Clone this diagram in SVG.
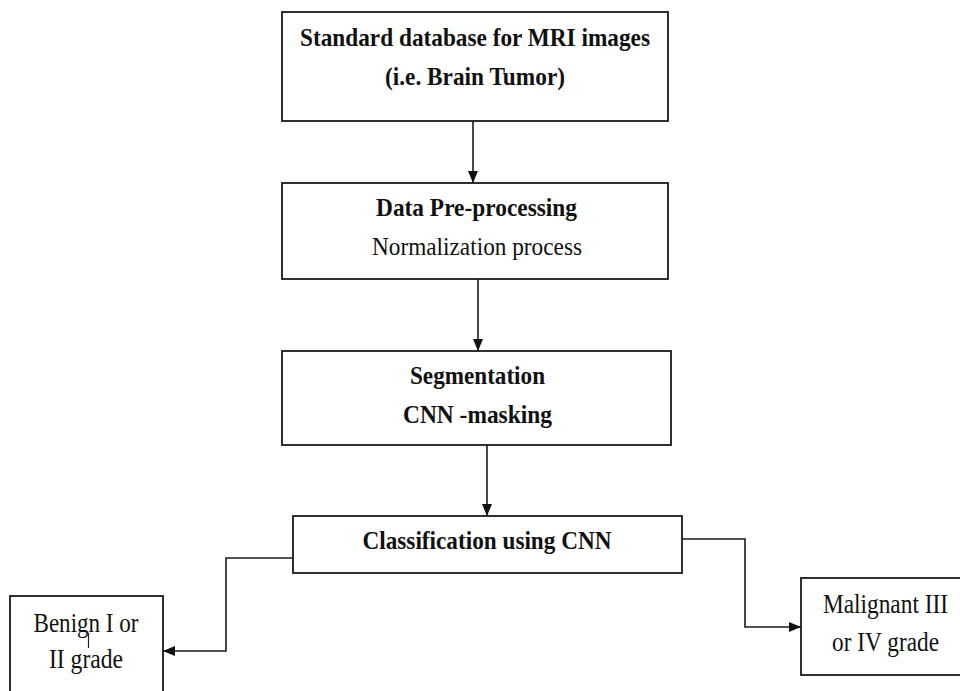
<svg xmlns="http://www.w3.org/2000/svg" width="960" height="691" viewBox="0 0 960 691">
<style>
.box{fill:#fff;stroke:#1a1a1a;stroke-width:1.8}
.t{font-family:"Liberation Serif","Times New Roman",serif;fill:#111;text-anchor:middle}
.b{font-weight:bold;font-size:25px}
.n{font-size:25px}
.s{font-size:27px}
.c{fill:none;stroke:#1a1a1a;stroke-width:1.6}
</style>
<defs>
<marker id="ah" viewBox="0 0 12 10" refX="12" refY="5" markerWidth="12" markerHeight="10" markerUnits="userSpaceOnUse" orient="auto">
<path d="M0,0 L12,5 L0,10 Z" fill="#111"/>
</marker>
</defs>
<rect width="960" height="691" fill="#fff"/>
<g id="connectors">
<line class="c" x1="473" y1="121" x2="473" y2="183" marker-end="url(#ah)"/>
<line class="c" x1="478" y1="279" x2="478" y2="351" marker-end="url(#ah)"/>
<line class="c" x1="487" y1="445" x2="487" y2="516" marker-end="url(#ah)"/>
<polyline class="c" points="293,558 226,558 226,651 163,651" marker-end="url(#ah)"/>
<polyline class="c" points="682,539 745,539 745,627 801,627" marker-end="url(#ah)"/>
</g>
<g id="node-database">
<rect class="box" x="282" y="12" width="386" height="109"/>
<text class="t b" x="475" y="46" textLength="350" lengthAdjust="spacingAndGlyphs">Standard database for MRI images</text>
<text class="t b" x="475" y="85" textLength="180" lengthAdjust="spacingAndGlyphs">(i.e. Brain Tumor)</text>
</g>
<g id="node-preprocessing">
<rect class="box" x="282" y="183" width="386" height="96"/>
<text class="t b" x="476.5" y="216" textLength="201" lengthAdjust="spacingAndGlyphs">Data Pre-processing</text>
<text class="t n" x="477" y="255" textLength="210" lengthAdjust="spacingAndGlyphs">Normalization process</text>
</g>
<g id="node-segmentation">
<rect class="box" x="282" y="351" width="389" height="94"/>
<text class="t b" x="477.5" y="384" textLength="135" lengthAdjust="spacingAndGlyphs">Segmentation</text>
<text class="t b" x="477.5" y="423" textLength="149" lengthAdjust="spacingAndGlyphs">CNN -masking</text>
</g>
<g id="node-classification">
<rect class="box" x="293" y="516" width="389" height="57"/>
<text class="t b" x="487" y="549" textLength="249" lengthAdjust="spacingAndGlyphs">Classification using CNN</text>
</g>
<g id="node-benign">
<rect class="box" x="10" y="596" width="153" height="110"/>
<text class="t s" x="86" y="632" textLength="105" lengthAdjust="spacingAndGlyphs">Benign I or</text>
<line x1="88.5" y1="633" x2="88.5" y2="648" stroke="#222" stroke-width="1.2"/>
<text class="t s" x="86" y="668" textLength="74" lengthAdjust="spacingAndGlyphs">II grade</text>
</g>
<g id="node-malignant">
<rect class="box" x="801" y="578" width="170" height="97"/>
<text class="t s" x="885.5" y="613" textLength="125" lengthAdjust="spacingAndGlyphs">Malignant III</text>
<text class="t s" x="885.5" y="651" textLength="107" lengthAdjust="spacingAndGlyphs">or IV grade</text>
</g>
</svg>
